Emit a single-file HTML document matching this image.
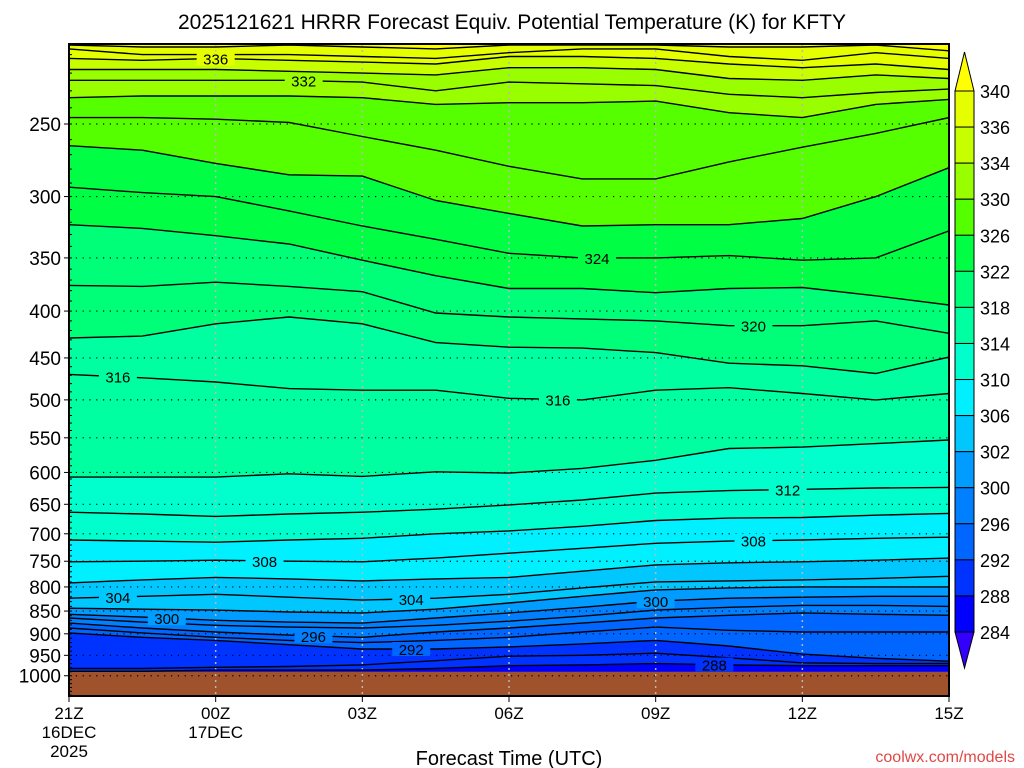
<!DOCTYPE html>
<html><head><meta charset="utf-8"><title>HRRR Equiv. Potential Temperature KFTY</title>
<style>
html,body{margin:0;padding:0;background:#fff;}
svg{display:block;font-family:"Liberation Sans","DejaVu Sans",sans-serif;}
</style></head>
<body>
<svg id="chart" width="1024" height="768" viewBox="0 0 1024 768" xmlns="http://www.w3.org/2000/svg">
<rect width="1024" height="768" fill="#fff"/>
<text x="512" y="29" font-size="21" text-anchor="middle" fill="#000">2025121621 HRRR Forecast Equiv. Potential Temperature (K) for KFTY</text>
<defs><clipPath id="plotclip"><rect x="69" y="44" width="880" height="652"/></clipPath></defs>
<g id="fills" clip-path="url(#plotclip)"></g>
<g id="ground"></g>
<g id="grid"></g>
<g id="lines" clip-path="url(#plotclip)"></g>
<g id="labels"></g>
<g id="axes"></g>
<g id="cbar"></g>
<text x="509" y="765" font-size="20" text-anchor="middle" fill="#000">Forecast Time (UTC)</text>
<text x="1015" y="762" font-size="16" text-anchor="end" fill="#e04848">coolwx.com/models</text>
</svg>
<script>
// forecast hours of data columns
const hours = [0,1.5,3,4.5,6,7.5,9,10.5,12,13.5,15,16.5,18];
// pressure (hPa) at which each theta-e contour lies, per column
const theta288 = [989,989,986,986,986,982,975,973,970,973,975,975,975];
const theta290 = [982,982,979,977,973,963,952,950,945,956,968,970,970];
const theta292 = [898,908,915,925,935,935,930,923,915,928,947,957,964];
const theta294 = [887,898,908,915,920,915,908,896,885,892,896,896,896];
const theta296 = [876,887,896,903,908,896,887,876,865,859,854,857,859];
const theta298 = [865,874,881,885,887,881,872,861,848,842,838,838,840];
const theta300 = [857,863,870,874,876,865,854,842,829,823,821,819,819];
const theta302 = [844,846,848,852,854,846,833,819,806,802,800,800,800];
const theta304 = [823,819,815,821,827,823,815,802,790,788,786,783,779];
const theta306 = [792,786,781,784,788,784,781,769,757,753,751,748,744];
const theta308 = [751,750,748,750,751,744,735,726,717,713,711,708,706];
const theta310 = [711,713,715,711,708,700,695,687,677,673,672,668,665];
const theta312 = [663,666,670,666,663,658,651,643,632,628,626,624,623];
const theta314 = [607,607,607,602,606,599,601,594,582,565,563,558,553];
const theta316 = [469,473,478,486,488,488,498,500,488,485,492,500,492];
const theta318 = [428,426,413,406,413,433,438,439,444,456,459,468,449];
const theta320 = [375,376,372,376,381,402,406,408,410,415,415,410,423];
const theta322 = [322,325,331,338,352,366,378,378,382,378,377,385,394];
const theta324 = [293,297,300,311,323,334,346,350,350,348,352,350,327];
const theta326 = [264,267,276,284,285,303,313,323,322,322,317,300,279];
const theta328 = [246,246,247,249,258,267,278,287,287,275,265,256,246];
const theta330 = [234,233,233,233,234,238,237,237,236,243,246,238,235];
const theta332 = [224,224,224,224,225,230,225,226,227,232,234,231,229];
const theta334 = [218,218,218,219,220,221,217,217,218,223,224,221,223];
const theta336 = [212,213,212,213,214,215,211,211,212,215,217,215,218];
const theta338 = [207,210,210,210,211,212,209,207,207,211,213,209,212];
const theta340 = [205,206,206,205,206,207,205,205,205,206,206,205,208];
const contourLevels = [288,290,292,294,296,298,300,302,304,306,308,310,312,314,316,318,320,322,324,326,328,330,332,334,336,338,340];
const contourPressures = [theta288,theta290,theta292,theta294,theta296,theta298,theta300,theta302,theta304,theta306,theta308,theta310,theta312,theta314,theta316,theta318,theta320,theta322,theta324,theta326,theta328,theta330,theta332,theta334,theta336,theta338,theta340];
// filled shading thresholds and colours
const fillLevels = [288,292,296,300,302,306,310,314,318,322,326,330,334,336,340];
const fillColors = ['#0033ff','#0066ff','#0080ff','#009cff','#00c8ff','#00f0ff','#00ffcc','#00ffa0','#00ff78','#00ff44','#55ff00','#99ff00','#c8ff00','#e6ff00','#ffff00'];
const baseColor = '#0000ff';
// labeled contours: level and forecast hour of label
const labelLevels = [336,332,324,320,316,316,312,308,308,304,304,300,300,296,292,288];
const labelHours = [3,4.8,10.8,14,1,10,14.7,4,14,1,7,2,12,5,7,13.2];
const yTicks = [250,300,350,400,450,500,550,600,650,700,750,800,850,900,950,1000];
const xTickHours = [0,3,6,9,12,15,18];
const xTickLabels = ['21Z','00Z','03Z','06Z','09Z','12Z','15Z'];
const xTickDates = [['16DEC','2025'],['17DEC'],[],[],[],[],[]];
const groundPressure = 990;
const cbarLabels = [340,336,334,330,326,322,318,314,310,306,302,300,296,292,288,284];

const NS='http://www.w3.org/2000/svg';
const L=69,R=949,T=44,B=696;
function xs(h){return L+(R-L)*h/18;}
function ys(p){return 124+398*Math.log(p/250);}
function mk(tag,attrs,parent){const e=document.createElementNS(NS,tag);for(const k in attrs)e.setAttribute(k,attrs[k]);parent.appendChild(e);return e;}
function interpP(arr,h){for(let i=0;i<hours.length-1;i++){if(h>=hours[i]&&h<=hours[i+1]){const t=(h-hours[i])/(hours[i+1]-hours[i]);return arr[i]+t*(arr[i+1]-arr[i]);}}return arr[arr.length-1];}

const gF=document.getElementById('fills');
const base=mk('rect',{x:L,y:T,width:R-L,height:B-T,fill:baseColor},gF);


fillLevels.forEach((lv,i)=>{
  const arr=contourPressures[contourLevels.indexOf(lv)];
  let d='M'+L+','+(T-5);
  hours.forEach((h,j)=>{d+=' L'+xs(h).toFixed(1)+','+ys(arr[j]).toFixed(1);});
  d+=' L'+R+','+(T-5)+' Z';
  const p=mk('path',{d:d,fill:fillColors[i],stroke:'none'},gF);
  
  
});

const gG=document.getElementById('ground');
const gr=mk('rect',{x:L,y:ys(groundPressure),width:R-L,height:B-ys(groundPressure),fill:'#a0522d'},gG);



const gGrid=document.getElementById('grid');
yTicks.forEach(p=>{
  const ln=mk('line',{x1:L,x2:R,y1:ys(p),y2:ys(p),stroke:'#000','stroke-width':1.2,'stroke-dasharray':'1.2,5.6'},gGrid);
  
  
});
xTickHours.slice(1,-1).forEach(h=>{
  const ln=mk('line',{x1:xs(h),x2:xs(h),y1:T,y2:B,stroke:'#b8b8b8','stroke-width':1.5,'stroke-dasharray':'2,4'},gGrid);
  
  
});

const gL=document.getElementById('lines');
contourLevels.forEach((lv,i)=>{
  const pts=hours.map((h,j)=>xs(h).toFixed(1)+','+ys(contourPressures[i][j]).toFixed(1)).join(' ');
  const pl=mk('polyline',{points:pts,fill:'none',stroke:'#000','stroke-width':1.4},gL);
  
  
});

const gLb=document.getElementById('labels');
labelLevels.forEach((lv,i)=>{
  const arr=contourPressures[contourLevels.indexOf(lv)];
  const x=xs(labelHours[i]),y=ys(interpP(arr,labelHours[i]));
  const fi=fillLevels.filter(f=>f<=lv).length-1;
  const bg=mk('rect',{x:x-19,y:y-7,width:38,height:14,fill:fi>=0?fillColors[fi]:baseColor},gLb);
  
  
  const t=mk('text',{x:x,y:y+6,'font-size':15,'text-anchor':'middle',fill:'#000'},gLb);
  t.textContent=lv;
  
  
});

const gA=document.getElementById('axes');
const fr=mk('rect',{x:L,y:T,width:R-L,height:B-T,fill:'none',stroke:'#000','stroke-width':2},gA);


yTicks.forEach(p=>{
  const tk=mk('line',{x1:L-5,x2:L,y1:ys(p),y2:ys(p),stroke:'#000','stroke-width':1},gA);
  
  
  const t=mk('text',{x:L-8,y:ys(p)+7,'font-size':19,'text-anchor':'end',fill:'#000'},gA);
  t.textContent=p;
  
  
});
for(let p=210;p<=1050;p+=10){
  const tk=mk('line',{x1:L,x2:L+3,y1:ys(p),y2:ys(p),stroke:'#000','stroke-width':1},gA);
  
  
}
xTickHours.forEach((h,i)=>{
  const tk=mk('line',{x1:xs(h),x2:xs(h),y1:B,y2:B+6,stroke:'#000','stroke-width':1},gA);
  
  
  const t=mk('text',{x:xs(h),y:719,'font-size':17,'text-anchor':'middle',fill:'#000'},gA);
  t.textContent=xTickLabels[i];
  
  
  xTickDates[i].forEach((s,k)=>{
    const d=mk('text',{x:xs(h),y:738+k*19,'font-size':17,'text-anchor':'middle',fill:'#000'},gA);
    d.textContent=s;
    
    
  });
});

const gC=document.getElementById('cbar');
const cx=955,cw=19,cTop=91,cStep=(632-91)/15;
const tri1=mk('polygon',{points:cx+','+cTop+' '+(cx+cw)+','+cTop+' '+(cx+cw/2)+',52',fill:'#ffff00',stroke:'#000','stroke-width':1},gC);


const yb=cTop+15*cStep;
const tri2=mk('polygon',{points:cx+','+yb+' '+(cx+cw)+','+yb+' '+(cx+cw/2)+',668',fill:'#3300ff',stroke:'#000','stroke-width':1},gC);


cbarLabels.forEach((lv,i)=>{
  const y=cTop+i*cStep;
  if(i<cbarLabels.length-1){
    const lower=cbarLabels[i+1];
    const fi=fillLevels.indexOf(lower);
    const r=mk('rect',{x:cx,y:y,width:cw,height:cStep,fill:fi>=0?fillColors[fi]:baseColor,stroke:'#000','stroke-width':1},gC);
    
    
  }
  const t=mk('text',{x:980,y:y+7,'font-size':18,fill:'#000'},gC);
  t.textContent=lv;
  
  
});
</script>
</body></html>
